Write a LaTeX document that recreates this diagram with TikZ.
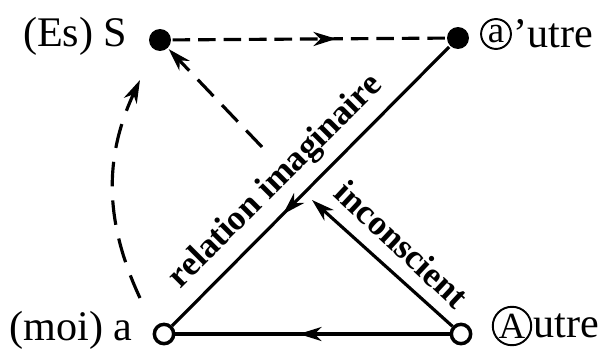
\documentclass[tikz,border=0pt]{standalone}
\usepackage{fontspec}
\setmainfont{Liberation Serif}
\usetikzlibrary{arrows.meta,positioning,decorations.markings}

\tikzset{
  >={Stealth[length=13pt,width=8pt,inset=4pt]},
  txt/.style={inner sep=0pt,font=\fontsize{24}{26}\selectfont},
  rtxt/.style={inner sep=0pt,font=\fontsize{20}{22}\selectfont\bfseries},
  full/.style={circle,fill,inner sep=0pt,minimum size=12.5pt},
  empty/.style={circle,draw,line width=2pt,fill=white,inner sep=0pt,minimum size=11pt},
  circ/.style={circle,draw,line width=1.1pt,inner sep=0.5pt,font=\fontsize{21}{23}\selectfont},
  midarrow/.style={postaction={decorate,decoration={markings,
      mark=at position #1 with {\arrow{>}}}}},
  dsh/.style={dash pattern=on 10pt off 4.5pt}
}

\begin{document}
\begin{tikzpicture}[x=0.02cm,y=-0.02cm,line width=1.8pt]
  \useasboundingbox (0,0) rectangle (611,348);

  \node[full] (S) at (160,40) {};
  \node[full] (ao) at (458,38) {};
  \node[empty] (a) at (164,334) {};
  \node[empty] (A) at (461,334) {};

  \node[txt,anchor=east] (lS) at (129,36) {(Es) S};
  \node[circ,minimum size=17pt] (ca) at (496,34) {a};
  \node[txt,right=0pt of ca] (lao) {’utre};
  \node[txt,anchor=east] (la) at (134,330) {(moi) a};
  \node[circ] (cA) at (512,326) {A};
  \node[txt,right=0pt of cA] (lA) {utre};

  \coordinate (ic) at (312,200);
  \coordinate (ds) at (262,147);
  \coordinate (cb) at (140,298);
  \coordinate (ct) at (140,80);

  \draw[dsh,midarrow=0.6] (S) -- (ao);
  \draw[midarrow=0.6] (ao) -- (a);
  \draw[midarrow=0.55] (A) -- (a);
  \draw[->] (A) -- (ic);
  \draw[dash pattern=on 13pt off 7pt,->] (ds) -- (S);
  \draw[dash pattern=on 14pt off 8pt,->] (cb) to[bend left=25] (ct);

  \node[rtxt,rotate=45] (ri) at (276,182) {relation imaginaire};
  \node[rtxt,rotate=-43] (inc) at (402,244) {inconscient};
\end{tikzpicture}
\end{document}
